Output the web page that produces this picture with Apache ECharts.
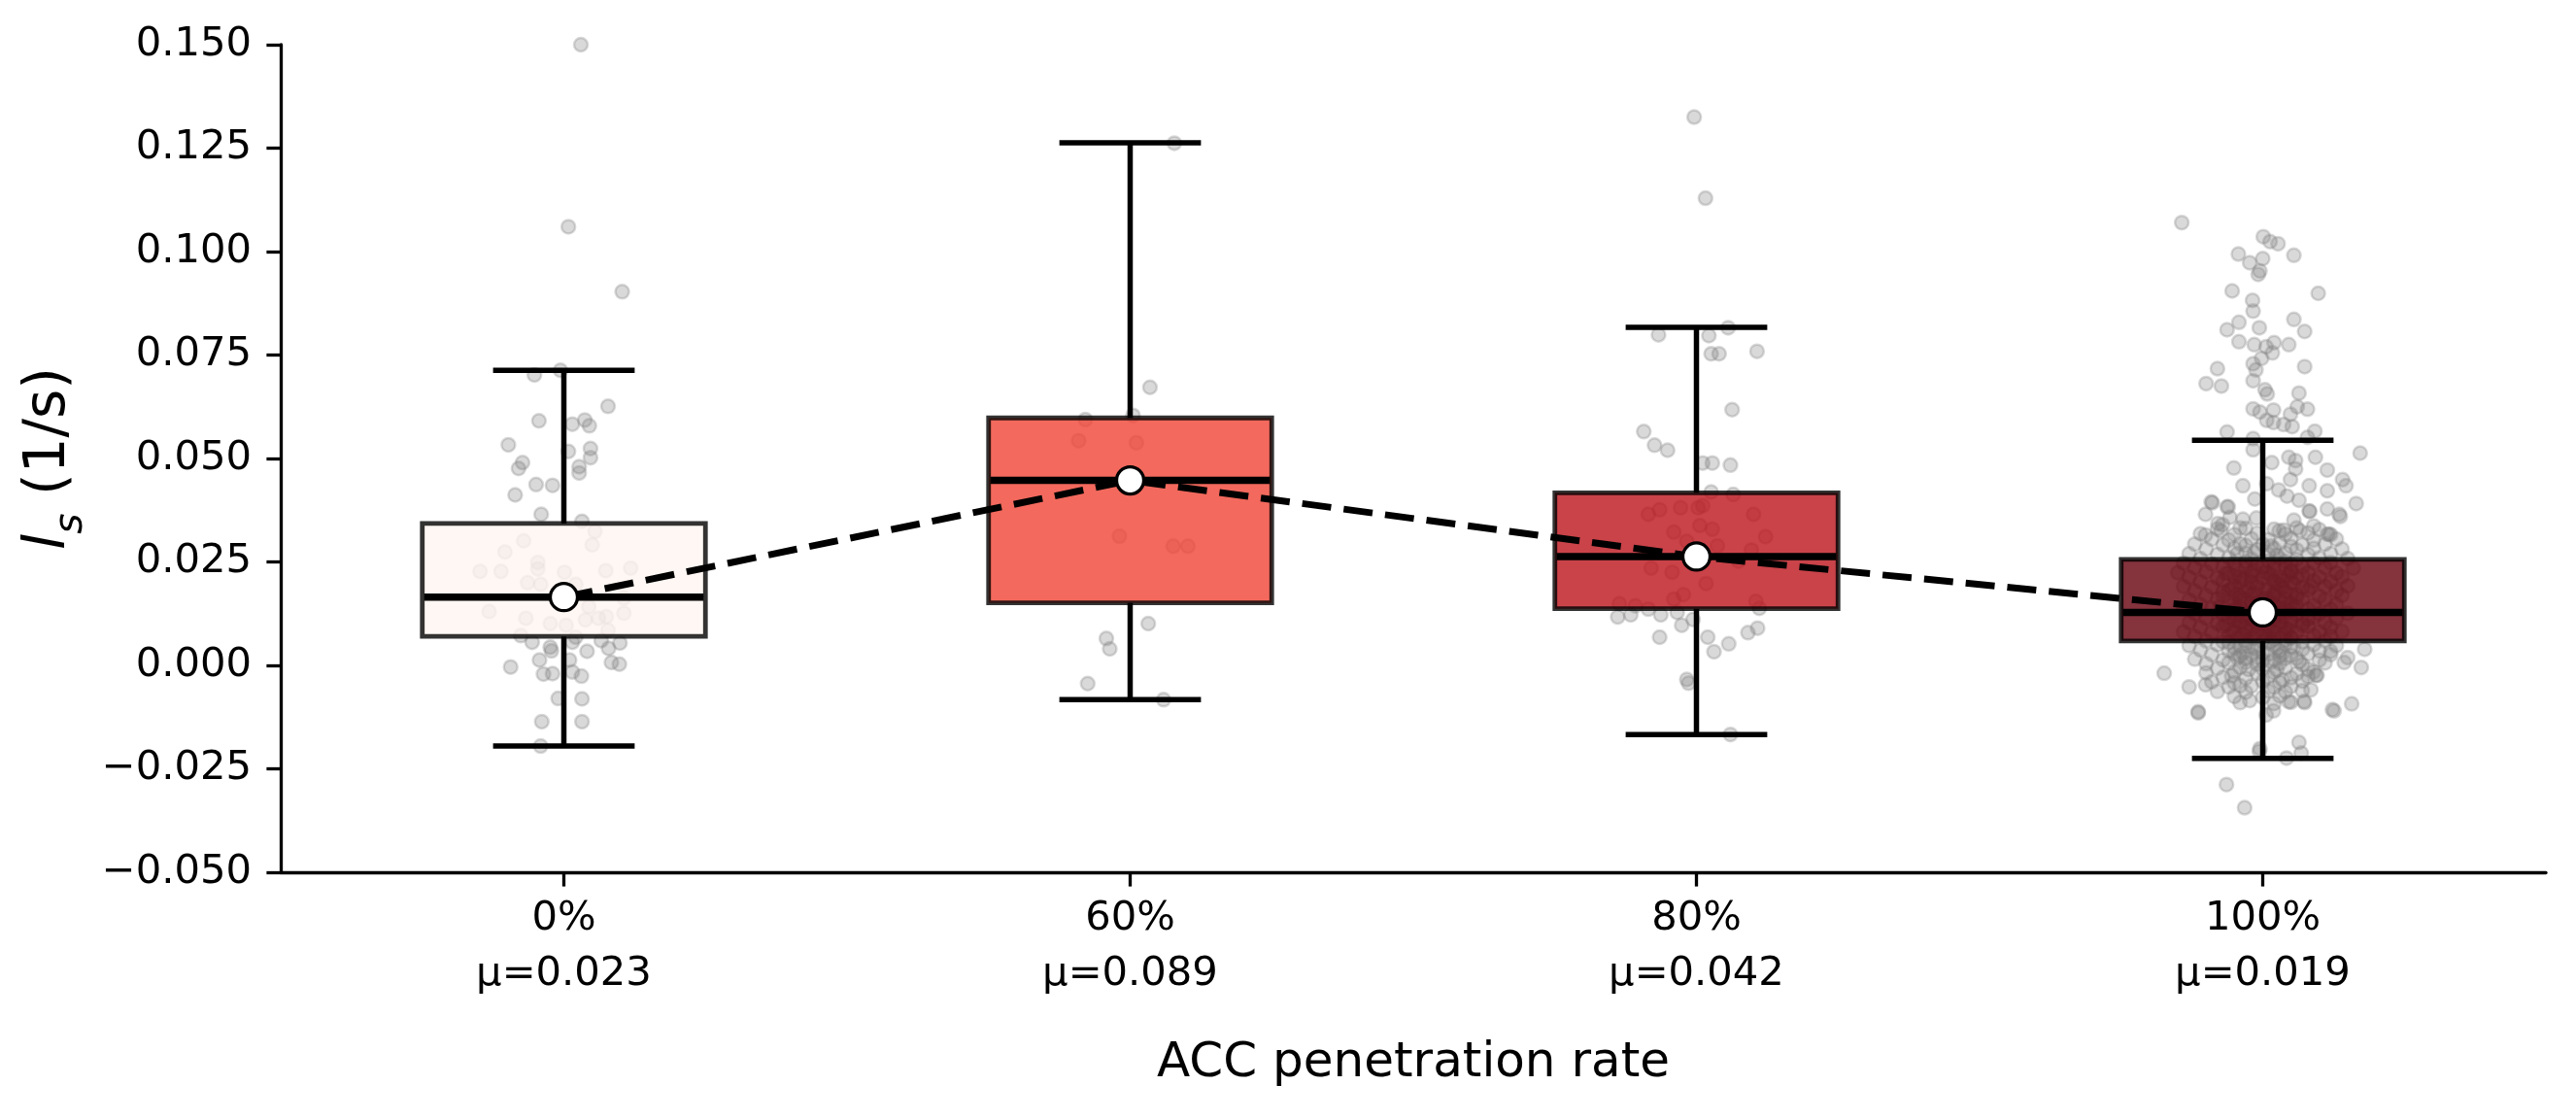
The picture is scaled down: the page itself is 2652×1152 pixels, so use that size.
<!DOCTYPE html>
<html>
<head>
<meta charset="utf-8">
<script src="https://cdn.jsdelivr.net/npm/echarts@6/dist/echarts.min.js"></script>
<style>html,body{margin:0;padding:0;background:#fff;}#c{width:2652px;height:1152px;}</style>
</head>
<body>
<div id="c"></div>
<script>
// ---------- data ----------
const categories = ['0%', '60%', '80%', '100%'];
const means = [0.023, 0.089, 0.042, 0.019];
// [whisker low, Q1, median, Q3, whisker high]
const box0 = [-0.0195, 0.0070, 0.0165, 0.0343, 0.0713];
const box60 = [-0.0083, 0.0151, 0.0447, 0.0598, 0.1263];
const box80 = [-0.0167, 0.0137, 0.0263, 0.0417, 0.0817];
const box100 = [-0.0225, 0.0059, 0.0128, 0.0256, 0.0544];
const boxColors = ['rgba(255,245,240,0.8)', 'rgba(240,68,52,0.8)', 'rgba(187,20,27,0.8)', 'rgba(103,0,13,0.8)'];
const yTicks = {min: -0.05, max: 0.15, interval: 0.025};

// jittered observations: [x offset from category centre, value]
const pts0 = [[0.03,0.1500],[0.008,0.1060],[0.103,0.0903],
[-0.052,0.0702],[-0.006,0.0713],[0.078,0.0626],[-0.044,0.0591],[0.015,0.0583],[0.037,0.0593],[0.045,0.0579],[-0.098,0.0533],[0.008,0.0517],[0.047,0.0524],[0.047,0.0502],[-0.073,0.0490],[-0.080,0.0476],[0.027,0.0480],[0.027,0.0465],[-0.049,0.0437],[-0.020,0.0435],[-0.086,0.0412],[-0.040,0.0365],[0.032,0.0348],[0.055,0.0324],[-0.071,0.0301],[0.050,0.0291],[-0.104,0.0274],[-0.046,0.0249],[-0.148,0.0227],[-0.111,0.0227],[-0.046,0.0233],[0.001,0.0225],[0.074,0.0229],[0.118,0.0235],[-0.064,0.0200],[-0.041,0.0196],[0.021,0.0196],[0.106,0.0163],[-0.132,0.0130],[0.044,0.0142],[-0.067,0.0114],[0.061,0.0114],[0.075,0.0118],[-0.024,0.0101],[0.004,0.0097],[0.038,0.0110],[0.106,0.0126],[-0.076,0.0072],[0.021,0.0068],[0.078,0.0085],[-0.056,0.0056],[-0.024,0.0044],[0.015,0.0056],[0.066,0.0060],[0.099,0.0054],[-0.022,0.0035],[0.041,0.0034],[0.079,0.0041],[-0.043,0.0013],[0.010,0.0013],[-0.094,-0.0004],[0.084,0.0007],[0.098,0.0003],[-0.036,-0.0021],[-0.020,-0.0020],[0.015,-0.0016],[0.031,-0.0026],[-0.010,-0.0080],[0.032,-0.0081],[-0.039,-0.0136],[0.032,-0.0136],[-0.041,-0.0195]];

const pts60 = [[0.078,0.1262],[0.035,0.0672],[-0.079,0.0594],[0.005,0.0604],[-0.091,0.0543],[0.011,0.0538],[-0.019,0.0312],[0.076,0.0288],[0.102,0.0288],[0.032,0.0101],[-0.042,0.0065],[-0.036,0.0040],[-0.075,-0.0044],[0.059,-0.0083]];

const pts80 = [[-0.004,0.1325],[0.016,0.1129],[-0.067,0.0799],[0.022,0.0797],[0.056,0.0816],[0.026,0.0753],[0.040,0.0753],[0.107,0.0759],[0.063,0.0618],[-0.093,0.0565],[-0.074,0.0532],[-0.051,0.0520],[0.011,0.0489],[0.028,0.0489],[0.060,0.0484],[0.026,0.0419],[0.065,0.0413],[-0.085,0.0365],[-0.065,0.0376],[-0.028,0.0381],[0.003,0.0381],[0.011,0.0386],[0.101,0.0365],[-0.040,0.0322],[0.006,0.0338],[0.028,0.0329],[0.122,0.0311],[-0.017,0.0300],[0.037,0.0289],[0.097,0.0279],[-0.080,0.0235],[-0.043,0.0225],[0.074,0.0252],[0.017,0.0198],[-0.040,0.0160],[-0.023,0.0171],[0.105,0.0155],[-0.136,0.0149],[-0.108,0.0144],[-0.085,0.0136],[-0.063,0.0122],[-0.139,0.0117],[-0.116,0.0122],[-0.034,0.0128],[-0.006,0.0111],[0.111,0.0138],[-0.026,0.0097],[-0.065,0.0068],[0.020,0.0068],[0.057,0.0052],[0.031,0.0033],[0.091,0.0079],[0.108,0.0090],[-0.017,-0.0034],[-0.014,-0.0043],[0.060,-0.0167]];

const pts100 = [
[-0.143,0.1070],[0.001,0.1036],[0.013,0.1024],[0.027,0.1019],[-0.043,0.0994],[0.055,0.0991],[-0.023,0.0973],[0.000,0.0983],[-0.005,0.0953],[-0.008,0.0945],[-0.054,0.0905],[0.098,0.0899],[-0.018,0.0882],[-0.017,0.0856],[-0.042,0.0829],[0.055,0.0836],[-0.063,0.0811],[-0.006,0.0816],[0.074,0.0807],[-0.042,0.0782],[-0.015,0.0775],[0.006,0.0770],[0.020,0.0780],[0.046,0.0775],[0.017,0.0755],[-0.002,0.0742],[-0.017,0.0729],[-0.012,0.0714],[0.074,0.0722],[-0.080,0.0717],[-0.100,0.0681],[-0.073,0.0675],[-0.017,0.0688],[0.004,0.0666],[0.008,0.0656],[0.064,0.0658],[-0.017,0.0620],[-0.005,0.0612],[0.019,0.0617],[0.061,0.0625],[0.079,0.0619],[0.049,0.0607],[0.007,0.0592],[0.019,0.0587],[0.037,0.0582],[0.052,0.0577],[-0.063,0.0564],[0.092,0.0566],[-0.017,0.0548],[0.079,0.0551],[-0.017,0.0521],[0.172,0.0513],[0.046,0.0503],[0.058,0.0495],[0.016,0.0490],[0.093,0.0503],[-0.051,0.0477],[0.114,0.0472],[0.058,0.0475],[0.049,0.0449],[0.141,0.0449],[-0.035,0.0434],[0.082,0.0434],[0.147,0.0434],[0.007,0.0439],[0.028,0.0424],[0.114,0.0422],[0.043,0.0409],[-0.089,0.0393],[-0.014,0.0402],[0.064,0.0399],[-0.061,0.0383],[0.165,0.0391],[-0.101,0.0365],[0.114,0.0378],[0.082,0.0373],[0.135,0.0365],[-0.058,0.0358],[-0.035,0.0353],[0.055,0.0351],[-0.079,0.0343],[0.090,0.0337],[-0.101,0.0315],[0.114,0.0317],[0.037,0.0327],
[-0.091,0.0395],[-0.063,0.0383],[0.137,0.0360],[0.083,0.0372],[-0.071,0.0340],[-0.074,0.0325],[0.117,0.0317],[0.066,0.0325],[0.029,0.0325],[-0.040,0.0332],[-0.011,0.0356],
[-0.08,0.0330],[-0.03,0.0331],[0.02,0.0329],[0.06,0.0332],[0.10,0.0328],
[-0.11,0.0318],[-0.05,0.0316],[-0.01,0.0319],[0.04,0.0317],[0.08,0.0320],[0.12,0.0316],
[-0.09,0.0305],[-0.06,0.0303],[-0.02,0.0306],[0.01,0.0304],[0.05,0.0307],[0.09,0.0303],[0.13,0.0305],
[-0.12,0.0293],[-0.07,0.0291],[-0.04,0.0294],[0.00,0.0292],[0.03,0.0295],[0.07,0.0291],[0.11,0.0293],
[-0.10,0.0281],[-0.05,0.0283],[-0.01,0.0280],[0.02,0.0282],[0.06,0.0279],[0.09,0.0283],[0.14,0.0281],
[-0.13,0.0270],[-0.08,0.0268],[-0.03,0.0271],[0.01,0.0269],[0.04,0.0272],[0.08,0.0268],[0.12,0.0270],
[-0.11,0.0258],[-0.06,0.0260],[-0.02,0.0257],[0.03,0.0259],[0.06,0.0256],[0.10,0.0260],[0.15,0.0258],
[-0.14,0.0247],[-0.09,0.0245],[-0.05,0.0248],[-0.01,0.0246],[0.02,0.0249],[0.05,0.0245],[0.09,0.0247],[0.12,0.0248],
[-0.12,0.0236],[-0.07,0.0238],[-0.03,0.0235],[0.00,0.0237],[0.04,0.0234],[0.07,0.0238],[0.11,0.0236],[0.16,0.0235],
[-0.15,0.0224],[-0.10,0.0226],[-0.06,0.0223],[-0.02,0.0225],[0.01,0.0222],[0.05,0.0226],[0.08,0.0224],[0.13,0.0223],
[-0.13,0.0213],[-0.08,0.0211],[-0.04,0.0214],[0.00,0.0212],[0.03,0.0215],[0.06,0.0211],[0.10,0.0213],[0.14,0.0214],
[-0.11,0.0202],[-0.07,0.0204],[-0.02,0.0201],[0.02,0.0203],[0.05,0.0200],[0.09,0.0204],[0.12,0.0202],
[-0.14,0.0191],[-0.09,0.0189],[-0.05,0.0192],[-0.01,0.0190],[0.03,0.0193],[0.07,0.0189],[0.11,0.0191],[0.15,0.0192],
[-0.12,0.0180],[-0.06,0.0182],[-0.03,0.0179],[0.01,0.0181],[0.04,0.0178],[0.08,0.0182],[0.13,0.0180],
[-0.10,0.0169],[-0.07,0.0167],[-0.02,0.0170],[0.02,0.0168],[0.06,0.0171],[0.10,0.0167],[0.14,0.0169],
[-0.13,0.0158],[-0.08,0.0160],[-0.04,0.0157],[0.00,0.0159],[0.03,0.0156],[0.07,0.0160],[0.11,0.0158],
[-0.11,0.0147],[-0.06,0.0145],[-0.01,0.0148],[0.02,0.0146],[0.05,0.0149],[0.09,0.0145],[0.13,0.0147],
[-0.14,0.0136],[-0.09,0.0138],[-0.05,0.0135],[-0.02,0.0137],[0.01,0.0134],[0.04,0.0138],[0.08,0.0136],[0.12,0.0135],
[-0.12,0.0125],[-0.07,0.0123],[-0.03,0.0126],[0.00,0.0124],[0.03,0.0127],[0.06,0.0123],[0.10,0.0125],[0.15,0.0126],
[-0.10,0.0114],[-0.06,0.0116],[-0.02,0.0113],[0.02,0.0115],[0.05,0.0112],[0.09,0.0116],[0.13,0.0114],
[-0.13,0.0103],[-0.08,0.0101],[-0.04,0.0104],[-0.01,0.0102],[0.03,0.0105],[0.07,0.0101],[0.11,0.0103],
[-0.11,0.0092],[-0.07,0.0094],[-0.03,0.0091],[0.01,0.0093],[0.04,0.0090],[0.08,0.0094],[0.12,0.0092],
[-0.14,0.0081],[-0.09,0.0079],[-0.05,0.0082],[-0.01,0.0080],[0.02,0.0083],[0.06,0.0079],[0.10,0.0081],[0.14,0.0082],
[-0.12,0.0070],[-0.06,0.0072],[-0.02,0.0069],[0.01,0.0071],[0.05,0.0068],[0.09,0.0072],[0.12,0.0070],
[-0.10,0.0059],[-0.07,0.0057],[-0.03,0.0060],[0.00,0.0058],[0.04,0.0061],[0.07,0.0057],[0.11,0.0059],
[-0.13,0.0048],[-0.08,0.0050],[-0.04,0.0047],[0.02,0.0049],[0.05,0.0046],[0.09,0.0050],[0.13,0.0048],
[-0.11,0.0037],[-0.06,0.0035],[-0.01,0.0038],[0.03,0.0036],[0.07,0.0039],[0.10,0.0035],
[-0.09,0.0026],[-0.05,0.0028],[-0.02,0.0025],[0.01,0.0027],[0.05,0.0024],[0.08,0.0028],[0.12,0.0026],
[-0.12,0.0015],[-0.07,0.0013],[-0.03,0.0016],[0.02,0.0014],[0.06,0.0017],[0.10,0.0013],
[-0.10,0.0004],[-0.06,0.0006],[-0.01,0.0003],[0.03,0.0005],[0.07,0.0002],[0.11,0.0006],
[-0.08,-0.0007],[-0.04,-0.0005],[0.00,-0.0008],[0.04,-0.0006],[0.08,-0.0009],
[-0.10,-0.0018],[-0.05,-0.0016],[-0.01,-0.0019],[0.02,-0.0017],[0.06,-0.0020],[0.09,-0.0016],
[-0.07,-0.0029],[-0.03,-0.0031],[0.01,-0.0028],[0.05,-0.0030],[0.08,-0.0027],
[-0.09,-0.0040],[-0.05,-0.0042],[0.00,-0.0039],[0.03,-0.0041],[0.07,-0.0038],
[-0.06,-0.0052],[-0.02,-0.0050],[0.02,-0.0053],[0.05,-0.0051],
[-0.08,-0.0063],[-0.03,-0.0065],[0.01,-0.0062],[0.04,-0.0064],[0.07,-0.0061],
[-0.05,-0.0075],[0.00,-0.0077],[0.03,-0.0074],
[-0.04,-0.0090],[0.02,-0.0092],[0.05,-0.0089],
[-0.03,0.0290],[0.015,0.0288],[0.05,0.0287],[-0.045,0.0270],[-0.015,0.0273],[0.025,0.0266],[-0.03,0.0250],[0.01,0.0252],[0.04,0.0251],[-0.045,0.0232],[-0.015,0.0230],[0.02,0.0233],[0.05,0.0229],
[-0.05,0.0215],[-0.02,0.0217],[0.015,0.0216],[0.045,0.0218],[-0.04,0.0200],[-0.01,0.0198],[0.025,0.0199],[0.055,0.0197],
[-0.055,0.0185],[-0.025,0.0186],[0.005,0.0184],[0.035,0.0187],[-0.045,0.0172],[-0.015,0.0174],[0.02,0.0173],[0.05,0.0171],
[-0.035,0.0160],[0.005,0.0162],[0.04,0.0161],[-0.05,0.0150],[-0.02,0.0151],[0.015,0.0149],[0.045,0.0152],
[-0.04,0.0140],[-0.005,0.0141],[0.03,0.0139],[0.06,0.0142],[-0.055,0.0128],[-0.02,0.0129],[0.015,0.0127],[0.045,0.0130],
[-0.035,0.0118],[0.00,0.0119],[0.035,0.0117],[-0.05,0.0108],[-0.015,0.0107],[0.02,0.0109],[0.05,0.0106],
[-0.04,0.0097],[-0.005,0.0098],[0.03,0.0096],[-0.055,0.0086],[-0.02,0.0087],[0.015,0.0085],[0.045,0.0088],
[-0.035,0.0075],[0.005,0.0076],[0.035,0.0074],[-0.045,0.0064],[-0.015,0.0065],[0.02,0.0063],[0.05,0.0066],
[-0.03,0.0053],[0.01,0.0054],[0.04,0.0052],[-0.05,0.0042],[-0.015,0.0043],[0.025,0.0041],
[-0.035,0.0030],[0.00,0.0031],[0.035,0.0029],[-0.045,0.0018],[-0.01,0.0019],[0.04,0.0017],
[-0.03,0.0007],[0.015,0.0008],[-0.025,-0.0010],[0.025,-0.0011],
[-0.065,0.0222],[-0.035,0.0208],[0.005,0.0226],[0.035,0.0205],[0.07,0.0218],[-0.07,0.0178],[-0.04,0.0165],[-0.01,0.0153],[0.025,0.0180],[0.06,0.0164],[0.085,0.0190],
[-0.075,0.0142],[-0.045,0.0120],[-0.01,0.0133],[0.025,0.0121],[0.055,0.0136],[0.08,0.0112],[-0.065,0.0098],[-0.03,0.0082],[0.005,0.0090],[0.04,0.0079],[0.07,0.0096],
[-0.06,0.0055],[-0.025,0.0046],[0.015,0.0058],[0.055,0.0043],[-0.04,0.0022],[0.00,0.0012],[0.03,0.0023],[0.065,0.0009],[-0.055,-0.0025],[0.035,-0.0035],
[0.180,0.0039],[0.120,0.0034],[0.150,0.0019],[0.144,0.0007],[0.174,-0.0005],[-0.174,-0.0019],[0.096,-0.0024],[-0.130,-0.0052],[-0.101,-0.0047],[-0.040,-0.0049],[0.085,-0.0059],[-0.023,-0.0085],[0.073,-0.0087],[0.046,-0.0088],[0.123,-0.0107],[0.157,-0.0093],[-0.114,-0.0112],[0.019,-0.0110],[0.006,-0.0120],[0.064,-0.0186],[-0.005,-0.0201],[0.042,-0.0224],[0.068,-0.0212],[-0.064,-0.0288],[-0.032,-0.0344],
[-0.114,-0.0115],[0.126,-0.0110],[0.094,-0.0024],[0.074,-0.0090],[-0.006,-0.0208]
];

// ---------- build ----------
const boxes = [box0, box60, box80, box100];
const groups = [pts0, pts60, pts80, pts100];
const scatterData = [];
groups.forEach((g, i) => g.forEach(p => scatterData.push([i + p[0], p[1]])));
const boxData = boxes.map((b, i) => [i].concat(b));
const medianData = boxes.map((b, i) => [i, b[2]]);

const chart = echarts.init(document.getElementById('c'), null, {renderer: 'canvas', devicePixelRatio: 1});
const FONT = 'DejaVu Sans';
const fmtY = v => (v < -1e-9 ? '\u2212' : '') + Math.abs(v).toFixed(3);

const option = {
  backgroundColor: '#ffffff',
  animation: false,
  grid: {left: 289, right: 31, top: 46, bottom: 254, containLabel: false},
  xAxis: [{
    type: 'category',
    data: categories,
    boundaryGap: true,
    axisLine: {show: true, onZero: false, lineStyle: {color: '#000', width: 3.3}},
    axisTick: {show: true, alignWithLabel: true, length: 14.6, lineStyle: {color: '#000', width: 3.3}},
    axisLabel: {
      margin: 20, color: '#000', fontFamily: FONT, fontSize: 41.7, lineHeight: 57,
      formatter: (v, i) => v + '\n\u03bc=' + means[i].toFixed(3)
    },
    splitLine: {show: false},
    name: 'ACC penetration rate',
    nameLocation: 'middle',
    nameGap: 172,
    nameTextStyle: {color: '#000', fontFamily: FONT, fontSize: 50}
  }, {
    type: 'value', min: -0.5, max: 3.5, show: false,
    axisLine: {onZero: false}
  }],
  yAxis: {
    type: 'value', min: yTicks.min, max: yTicks.max, interval: yTicks.interval,
    axisLine: {show: true, onZero: false, lineStyle: {color: '#000', width: 3.3}},
    axisTick: {show: true, length: 14.6, lineStyle: {color: '#000', width: 3.3}},
    axisLabel: {margin: 30, color: '#000', fontFamily: FONT, fontSize: 41.7, formatter: fmtY},
    splitLine: {show: false},
    name: '{i|l}{s|s}{n| (1/s)}',
    nameLocation: 'middle',
    nameGap: 205,
    nameTextStyle: {
      color: '#000', fontFamily: FONT, fontSize: 58,
      rich: {
        i: {fontFamily: FONT, fontSize: 58, fontStyle: 'italic', color: '#000'},
        s: {fontFamily: FONT, fontSize: 41, fontStyle: 'italic', color: '#000', verticalAlign: 'bottom', padding: [0, 0, -14, 0]},
        n: {fontFamily: FONT, fontSize: 58, color: '#000'}
      }
    }
  },
  series: [{
    type: 'scatter',
    xAxisIndex: 1,
    data: scatterData,
    symbol: 'circle',
    symbolSize: 14,
    z: 1,
    silent: true,
    itemStyle: {color: 'rgba(128,128,128,0.3)', borderColor: 'rgba(128,128,128,0.3)', borderWidth: 2.5, opacity: 1}
  }, {
    type: 'custom',
    xAxisIndex: 1,
    z: 2,
    silent: true,
    data: boxData,
    encode: {x: 0, y: [1, 2, 3, 4, 5]},
    renderItem: function (params, api) {
      const i = api.value(0);
      const lo = api.coord([i, api.value(1)]);
      const q1 = api.coord([i, api.value(2)]);
      const md = api.coord([i, api.value(3)]);
      const q3 = api.coord([i, api.value(4)]);
      const hi = api.coord([i, api.value(5)]);
      const bw = api.size([0.5, 0])[0];
      const cw = api.size([0.25, 0])[0];
      const cx = q1[0];
      const blk = {stroke: '#000', lineWidth: 5.5};
      return {
        type: 'group',
        children: [
          {type: 'rect', shape: {x: cx - bw / 2, y: q3[1], width: bw, height: q1[1] - q3[1]},
           style: {fill: boxColors[params.dataIndex], stroke: 'rgba(0,0,0,0.8)', lineWidth: 4.8}},
          {type: 'line', shape: {x1: cx, y1: q3[1], x2: cx, y2: hi[1]}, style: blk},
          {type: 'line', shape: {x1: cx, y1: q1[1], x2: cx, y2: lo[1]}, style: blk},
          {type: 'line', shape: {x1: cx - cw / 2, y1: hi[1], x2: cx + cw / 2, y2: hi[1]}, style: blk},
          {type: 'line', shape: {x1: cx - cw / 2, y1: lo[1], x2: cx + cw / 2, y2: lo[1]}, style: blk},
          {type: 'line', shape: {x1: cx - bw / 2 + 2, y1: md[1], x2: cx + bw / 2 - 2, y2: md[1]}, style: {stroke: '#000', lineWidth: 7.5}}
        ]
      };
    }
  }, {
    type: 'line',
    xAxisIndex: 1,
    data: medianData,
    z: 3,
    silent: true,
    symbol: 'none',
    lineStyle: {color: '#000', width: 7, type: [30, 13]}
  }, {
    type: 'scatter',
    xAxisIndex: 1,
    data: medianData,
    z: 4,
    silent: true,
    symbol: 'circle',
    symbolSize: 28,
    itemStyle: {color: '#fff', borderColor: '#000', borderWidth: 3.3, opacity: 1}
  }]
};
chart.setOption(option);
</script>
</body>
</html>
